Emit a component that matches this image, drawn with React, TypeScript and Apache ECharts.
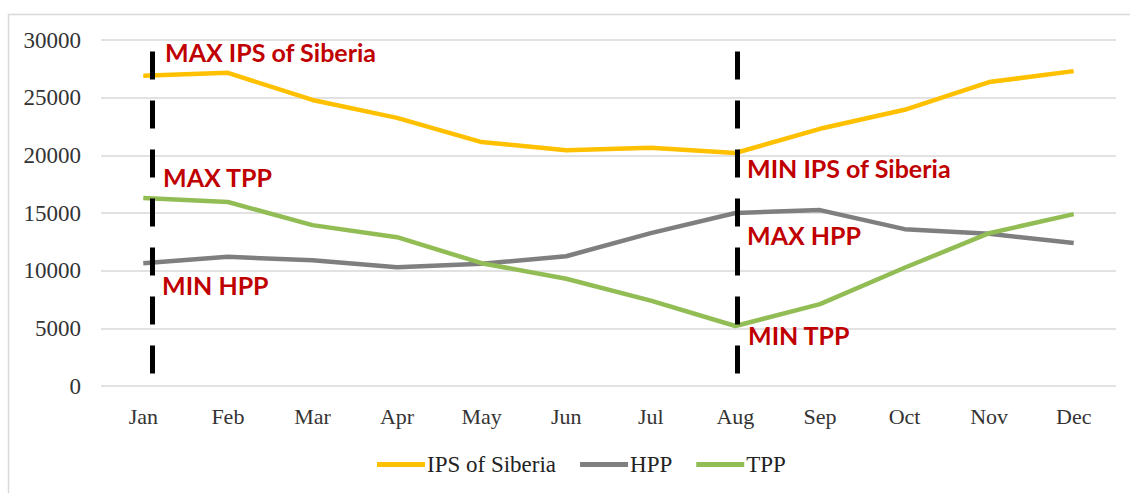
import React, { useEffect, useRef } from "react";
import * as echarts from "echarts";

const months = ["Jan", "Feb", "Mar", "Apr", "May", "Jun", "Jul", "Aug", "Sep", "Oct", "Nov", "Dec"];
const ipsSiberia = [26900, 27150, 24800, 23250, 21150, 20450, 20650, 20200, 22300, 23950, 26350, 27300];
const hpp = [10650, 11200, 10900, 10300, 10600, 11250, 13250, 15000, 15250, 13600, 13200, 12400];
const tpp = [16300, 15950, 13950, 12900, 10650, 9300, 7400, 5200, 7100, 10250, 13250, 14900];

const RED = "#C00000";
const labelFont = "Lato";
const serif = "Liberation Serif";

export default function App() {
  const ref = useRef<HTMLDivElement>(null);
  useEffect(() => {
    if (!ref.current) return;
    const chart = echarts.init(ref.current, null, { renderer: "svg" });
    const txt = (text: string, x: number, y: number) => ({
      type: "text",
      x,
      y,
      z: 100,
      style: {
        text,
        fill: RED,
        fontFamily: labelFont,
        fontWeight: "bold",
        fontSize: 25,
        verticalAlign: "middle",
        align: "left",
      },
    });
    chart.setOption({
      animation: false,
      backgroundColor: "#ffffff",
      grid: { left: 101, right: 14, top: 40, bottom: 107, containLabel: false },
      legend: {
        bottom: 12,
        left: 372,
        itemWidth: 48,
        itemHeight: 5,
        itemGap: 24,
        icon: "rect",
        textStyle: { fontFamily: serif, fontSize: 23, color: "#222", padding: [0, 0, 0, -3] },
        data: ["IPS of Siberia", "HPP", "TPP"],
      },
      xAxis: [
        {
          type: "category",
          data: months,
          boundaryGap: true,
          axisLine: { show: false },
          axisTick: { show: false },
          axisLabel: { fontFamily: serif, fontSize: 22, color: "#333", margin: 19 },
        },
        { type: "value", min: -0.5, max: 11.5, show: false },
      ],
      yAxis: {
        type: "value",
        min: 0,
        max: 30000,
        interval: 5000,
        axisLine: { show: false },
        axisTick: { show: false },
        axisLabel: {
          fontFamily: serif,
          fontSize: 23,
          color: "#333",
          margin: 20,
          formatter: (v: number) => String(v),
        },
        splitLine: { lineStyle: { color: "#d9d9d9", width: 1.5 } },
      },
      series: [
        {
          name: "IPS of Siberia",
          type: "line",
          data: ipsSiberia,
          symbol: "none",
          lineStyle: { color: "#FFC000", width: 4.5 },
          itemStyle: { color: "#FFC000" },
        },
        {
          name: "HPP",
          type: "line",
          data: hpp,
          symbol: "none",
          lineStyle: { color: "#7F7F7F", width: 4.5 },
          itemStyle: { color: "#7F7F7F" },
        },
        {
          name: "TPP",
          type: "line",
          data: tpp,
          symbol: "none",
          lineStyle: { color: "#92BD55", width: 4.5 },
          itemStyle: { color: "#92BD55" },
        },
        {
          name: "markers",
          type: "line",
          xAxisIndex: 1,
          data: [],
          silent: true,
          markLine: {
            symbol: "none",
            silent: true,
            label: { show: false },
            lineStyle: { color: "#000", width: 5, type: [28, 21], opacity: 1 },
            data: [
              [{ coord: [0.1, 29000] }, { coord: [0.1, 800] }],
              [{ coord: [7.02, 29000] }, { coord: [7.02, 800] }],
            ],
          },
        },
      ],
      graphic: [
        {
          type: "rect",
          shape: { x: 8.5, y: 14.5, width: 1140, height: 500 },
          style: { fill: "none", stroke: "#d9d9d9", lineWidth: 1.5 },
          z: -1,
        },
        txt("MAX IPS of Siberia", 165, 52),
        txt("MAX TPP", 163, 177),
        txt("MIN HPP", 162, 285),
        txt("MIN IPS of Siberia", 747, 168),
        txt("MAX HPP", 747, 235),
        txt("MIN TPP", 748, 335),
      ],
    });
    return () => chart.dispose();
  }, []);
  return <div ref={ref} style={{ position: "absolute", left: 0, top: 0, width: 1130, height: 493 }} />;
}
